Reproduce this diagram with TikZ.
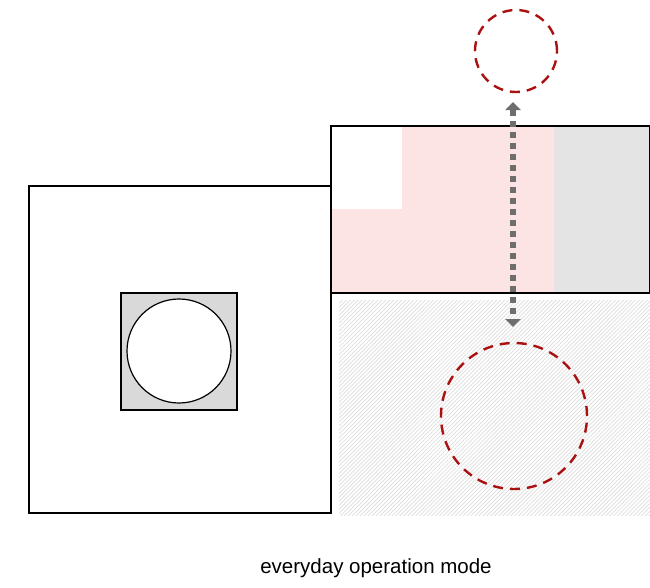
\documentclass[tikz,border=0pt]{standalone}
\usepackage{fontspec}
\setmainfont{Liberation Sans}
\usetikzlibrary{arrows.meta,patterns.meta}
\definecolor{pinkfill}{HTML}{FDE4E4}
\definecolor{grayfill}{HTML}{E4E4E4}
\definecolor{boxgray}{HTML}{D9D9D9}
\definecolor{darkred}{HTML}{AA1111}
\definecolor{arrowgray}{HTML}{6E6E6E}
\definecolor{hatchgray}{HTML}{DCDCDC}
\tikzset{
  box/.style={draw=black, line width=1.2pt, inner sep=0pt, outer sep=0pt},
  zone/.style={draw=darkred, dashed, dash pattern=on 10pt off 7pt, line width=2.4pt, circle, inner sep=0pt},
  link/.style={draw=arrowgray, line width=5.5pt, dash pattern=on 6pt off 5pt, {Triangle[width=15pt,length=8pt]}-{Triangle[width=15pt,length=8pt]}},
}
\begin{document}
\begin{tikzpicture}[x=1pt,y=-1pt]
\useasboundingbox (0,0) rectangle (650,587);
% hatched area
\fill[pattern={Lines[angle=45,distance=2.8pt,line width=0.7pt]}, pattern color=hatchgray] (339,300) rectangle (650,515);
% top right fills
\fill[pinkfill] (331,126) rectangle (554,293);
\fill[white] (331,126) rectangle (402,209);
\fill[grayfill] (554,126) rectangle (650,293);
% frames
\node[box, minimum width=319pt, minimum height=167pt, anchor=north west] (upper) at (331,126) {};
\node[box, minimum width=302pt, minimum height=327pt, anchor=north west] (left) at (29,186) {};
\node[box, fill=boxgray, minimum width=116pt, minimum height=117pt, anchor=north west] (core) at (121,293) {};
\node[box, fill=white, circle, minimum size=104pt] (hole) at (179,351) {};
% zones
\node[zone, minimum size=82pt] (topz) at (516,51) {};
\node[zone, minimum size=146pt] (botz) at (514,416) {};
\coordinate (a1) at (513,102);
\coordinate (a2) at (513,327);
\draw[link] (a1) -- (a2);
\node[font=\fontsize{20.5}{24}\selectfont] (cap) at (376,568) {everyday operation mode};
\end{tikzpicture}
\end{document}
